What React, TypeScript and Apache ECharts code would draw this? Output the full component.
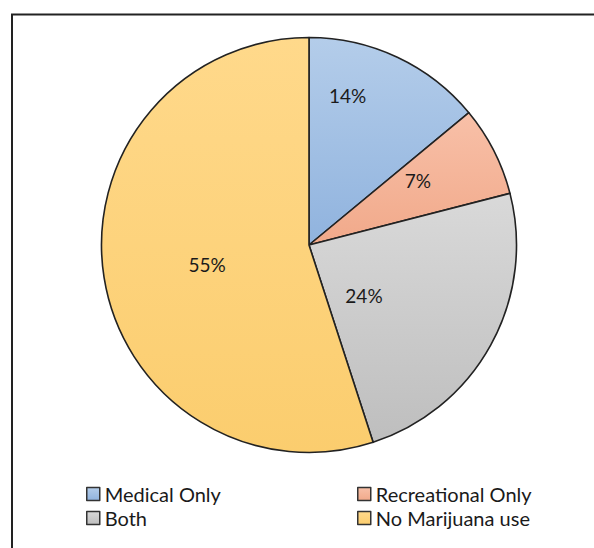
import React, { useEffect, useRef } from "react";
import * as echarts from "echarts";

const categories = ["Medical Only", "Recreational Only", "Both", "No Marijuana use"];
const values = [14, 7, 24, 55];
const labelTexts = ["14%", "7%", "24%", "55%"];
const topColors = ["#b4cdea", "#f8c0a8", "#d9d9d9", "#ffd98b"];
const bottomColors = ["#90b3de", "#f1a98a", "#bebebe", "#fbcd6e"];
// label placement (polar: degrees from +x axis counter-clockwise, fraction of radius)
const labelAngles = [75.5, 30.6, -42.6, -168.9];
const labelRadii = [0.742, 0.61, 0.36, 0.5];

const CX = 309;
const CY = 245;
const R = 207.5;

export default function App() {
  const ref = useRef<HTMLDivElement>(null);
  useEffect(() => {
    if (!ref.current) return;
    const chart = echarts.init(ref.current, null, { renderer: "svg" });
    const data = categories.map((name, i) => ({
      name,
      value: values[i],
      itemStyle: {
        color: new echarts.graphic.LinearGradient(0, 0, 0, 1, [
          { offset: 0, color: topColors[i] },
          { offset: 1, color: bottomColors[i] },
        ]),
      },
    }));
    const legendCommon = {
      orient: "vertical" as const,
      top: 484,
      padding: 0,
      itemWidth: 13,
      itemHeight: 13,
      itemGap: 4,
      icon: "rect",
      textStyle: { fontFamily: "Lato", fontSize: 20, color: "#1a1a1a", lineHeight: 20 },
      itemStyle: { borderColor: "#333", borderWidth: 1.5 },
    };
    chart.setOption({
      animation: false,
      backgroundColor: "#ffffff",
      graphic: [
        {
          type: "polyline",
          shape: { points: [[12, 548], [12, 14.5], [594, 14.5]] },
          style: { stroke: "#222", lineWidth: 2, fill: null },
          silent: true,
        },
      ],
      legend: [
        { ...legendCommon, left: 86, data: [categories[0], categories[2]] },
        { ...legendCommon, left: 357, data: [categories[1], categories[3]] },
      ],
      series: [
        {
          type: "pie",
          center: [CX, CY],
          radius: [0, R],
          startAngle: 90,
          clockwise: true,
          avoidLabelOverlap: false,
          itemStyle: { borderColor: "#222", borderWidth: 1.6 },
          label: {
            show: true,
            position: "inside",
            formatter: (p: any) => labelTexts[p.dataIndex],
            fontFamily: "Lato",
            fontSize: 19,
            color: "#1a1a1a",
          },
          labelLine: { show: false },
          emphasis: { disabled: true },
          labelLayout: (p: any) => {
            const i = p.dataIndex;
            const a = (labelAngles[i] * Math.PI) / 180;
            return {
              x: CX + Math.cos(a) * R * labelRadii[i],
              y: CY - Math.sin(a) * R * labelRadii[i],
              align: "center",
              verticalAlign: "middle",
            };
          },
          data,
        },
      ],
    });
    return () => chart.dispose();
  }, []);
  return (
    <div
      ref={ref}
      style={{ position: "absolute", left: 0, top: 0, width: 594, height: 548 }}
    />
  );
}
